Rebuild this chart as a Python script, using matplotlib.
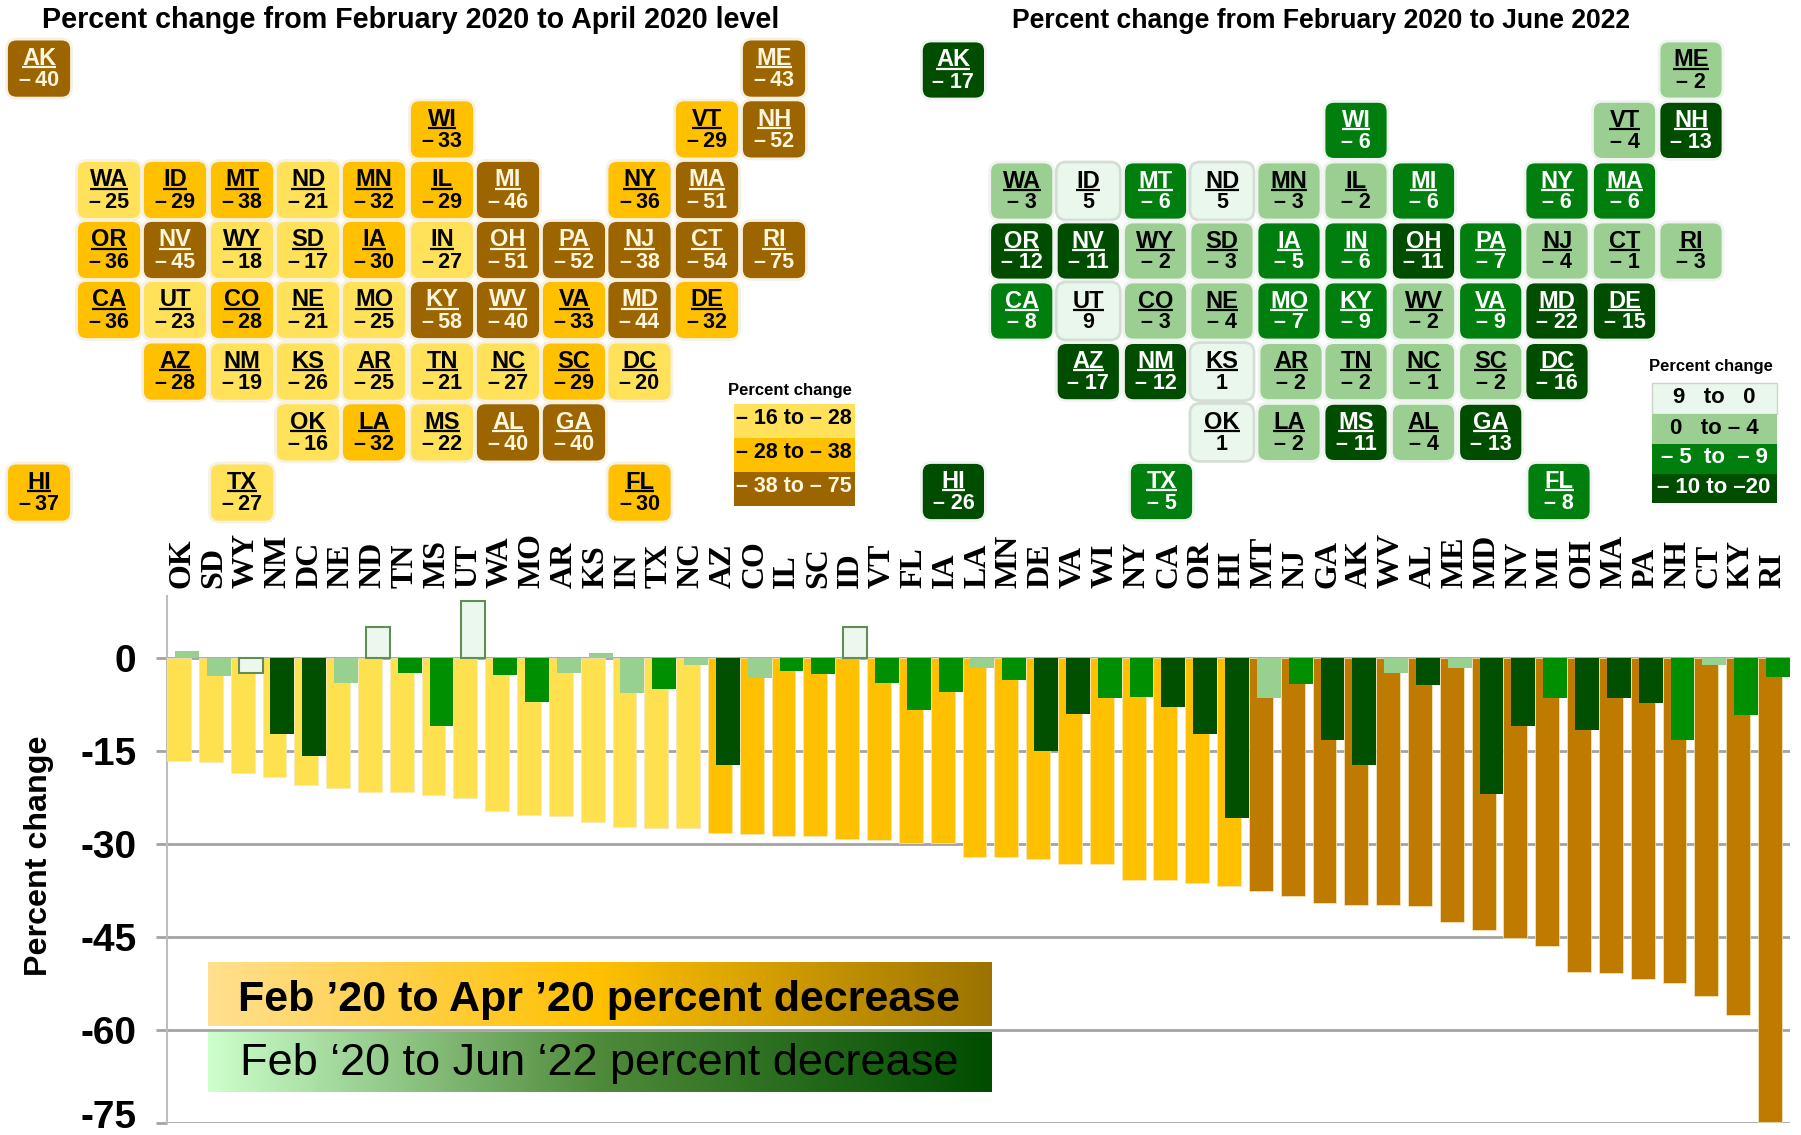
import numpy as np
import matplotlib
matplotlib.use("Agg")
import matplotlib.pyplot as plt
from matplotlib.patches import FancyBboxPatch, Rectangle
from matplotlib.colors import LinearSegmentedColormap
from matplotlib.transforms import ScaledTranslation

plt.rcParams['font.family'] = ['Liberation Sans', 'DejaVu Sans']

# ---- data ----
bar_states = ["OK","SD","WY","NM","DC","NE","ND","TN","MS","UT","WA","MO","AR","KS","IN","TX","NC",
              "AZ","CO","IL","SC","ID","VT","FL","IA","LA","MN","DE","VA","WI","NY","CA","OR","HI",
              "MT","NJ","GA","AK","WV","AL","ME","MD","NV","MI","OH","MA","PA","NH","CT","KY","RI"]
apr_bars = [-16.6,-16.8,-18.6,-19.3,-20.6,-21.0,-21.7,-21.7,-22.2,-22.7,-24.7,-25.4,-25.5,-26.5,-27.3,-27.4,-27.4,
            -28.3,-28.5,-28.7,-28.8,-29.3,-29.4,-29.9,-29.9,-32.1,-32.2,-32.4,-33.2,-33.2,-35.8,-35.8,-36.4,-36.9,
            -37.6,-38.5,-39.6,-39.9,-39.9,-40.1,-42.7,-44.0,-45.2,-46.5,-50.7,-50.9,-51.9,-52.4,-54.5,-57.7,-74.9]
jun_bars = [1.05,-3.0,-2.4,-12.3,-15.8,-4.0,5.0,-2.5,-11.0,9.1,-2.8,-7.2,-2.4,0.75,-5.7,-5.0,-1.2,
            -17.3,-3.2,-2.1,-2.6,4.9,-4.1,-8.5,-5.6,-1.6,-3.6,-15.1,-9.0,-6.5,-6.4,-7.9,-12.3,-25.9,
            -6.5,-4.3,-13.3,-17.3,-2.4,-4.4,-1.7,-21.9,-11.0,-6.5,-11.7,-6.5,-7.3,-13.3,-1.1,-9.2,-3.1]
apr_bar_class = list("y"*17 + "o"*17 + "b"*17)
jun_bar_class = list("LLPDDLPMMPMMLLLML" "DLMMPMMMLMDDMMDDD" "LMDDLDLDDMDDDMLMM")

tile_states = ["AK","ME","WI","VT","NH","WA","ID","MT","ND","MN","IL","MI","NY","MA",
               "OR","NV","WY","SD","IA","IN","OH","PA","NJ","CT","RI",
               "CA","UT","CO","NE","MO","KY","WV","VA","MD","DE",
               "AZ","NM","KS","AR","TN","NC","SC","DC","OK","LA","MS","AL","GA","HI","TX","FL"]
tile_rows = [0,0,1,1,1,2,2,2,2,2,2,2,2,2,
             3,3,3,3,3,3,3,3,3,3,3,
             4,4,4,4,4,4,4,4,4,4,
             5,5,5,5,5,5,5,5,6,6,6,6,6,7,7,7]
tile_cols = [0,11,6,10,11,1,2,3,4,5,6,7,9,10,
             1,2,3,4,5,6,7,8,9,10,11,
             1,2,3,4,5,6,7,8,9,10,
             2,3,4,5,6,7,8,9,4,5,6,7,8,0,3,9]
apr_vals = [-40,-43,-33,-29,-52,-25,-29,-38,-21,-32,-29,-46,-36,-51,
            -36,-45,-18,-17,-30,-27,-51,-52,-38,-54,-75,
            -36,-23,-28,-21,-25,-58,-40,-33,-44,-32,
            -28,-19,-26,-25,-21,-27,-29,-20,-16,-32,-22,-40,-40,-37,-27,-30]
jun_vals = [-17,-2,-6,-4,-13,-3,5,-6,5,-3,-2,-6,-6,-6,
            -12,-11,-2,-3,-5,-6,-11,-7,-4,-1,-3,
            -8,9,-3,-4,-7,-9,-2,-9,-22,-15,
            -17,-12,1,-2,-2,-1,-2,-16,1,-2,-11,-4,-13,-26,-5,-8]
apr_brown_states = ["AK","ME","NH","MI","MA","NV","OH","PA","NJ","CT","RI","KY","WV","MD","AL","GA"]
apr_yellow_states = ["WA","ND","WY","SD","IN","UT","NE","MO","NM","KS","AR","TN","NC","DC","OK","MS","TX"]

left_legend = ["\u2013 16 to \u2013 28", "\u2013 28 to \u2013 38", "\u2013 38 to \u2013 75"]
right_legend = ["9   to   0", "0   to \u2013 4", "\u2013 5  to  \u2013 9", "\u2013 10 to \u201320"]
yticks = [0, -15, -30, -45, -60, -75]

# ---- style ----
BAR = {"y":"#FFE14F","o":"#FFC000","b":"#BF7A00","P":"#ECF8EE","L":"#98D18F","M":"#008F00","D":"#005000"}
T_A = {"y":"#FFE15A","o":"#FFC000","b":"#9C6500"}
T_J = {"P":"#EAF7EC","L":"#9BCF91","M":"#007F0E","D":"#004D00"}
R_SHIFT = {"TX":6, "FL":2, "AR":2}
W, H = 1801, 1135

fig = plt.figure(figsize=(W/100, H/100), dpi=100, facecolor="white")

# ---- bar chart ----
axL, axR, axT, axB = 167, 1790, 596, 1122.6
ax = fig.add_axes([axL/W, 1-axB/H, (axR-axL)/W, (axB-axT)/H], zorder=1)
x = np.arange(len(bar_states))
ax.set_xlim(-0.377, 50.63)
ax.set_ylim(-75, 9.97)
for s in ("top","right","bottom"):
    ax.spines[s].set_visible(False)
ax.spines["left"].set_color("#BDBDBD")
ax.spines["left"].set_linewidth(1.5)
ax.set_axisbelow(True)
ax.yaxis.grid(True, color="#A3A3A3", lw=2.0)
ax.xaxis.grid(False)
ax.bar(x, apr_bars, width=0.75, color=[BAR[c] for c in apr_bar_class], edgecolor="#F3E9C0", linewidth=0.5, zorder=3)
for xi, v, c in zip(x, jun_bars, jun_bar_class):
    ec = "#5F8F55" if c == "P" else "none"
    ax.bar(xi+0.25, v, width=0.75, color=BAR[c], edgecolor=ec, linewidth=1.5 if c == "P" else 0, zorder=4)
ax.set_yticks(yticks)
ax.set_yticklabels([str(t) for t in yticks], fontsize=28, fontweight="bold", color="black")
ax.tick_params(axis="y", length=8, width=2, color="#A3A3A3", pad=14)
last = ax.get_yticklabels()[-1]
last.set_va("center")
last.set_transform(last.get_transform() + ScaledTranslation(0, 3.5/72, fig.dpi_scale_trans))
ax.xaxis.tick_top()
ax.set_xticks(x+0.1)
ax.set_xticklabels(bar_states, rotation=90, fontsize=23, fontweight="bold",
                   family=["Liberation Serif"], color="black")
ax.tick_params(axis="x", length=0, pad=6)

# ---- overlay in pixel space ----
ov = fig.add_axes([0,0,1,1], zorder=2, facecolor="none")
ov.set_xlim(0, W); ov.set_ylim(H, 0); ov.axis("off")

fig.canvas.draw()
rend = fig.canvas.get_renderer()

def tile_text(cx, cy, label, val, color, minus_gap):
    t = ov.text(cx, cy-10, label, ha="center", va="center", fontsize=17, fontweight="bold", color=color, zorder=6)
    bb = t.get_window_extent(rend)
    ov.plot([cx-bb.width/2, cx+bb.width/2], [cy-1.5, cy-1.5], color=color, lw=1.6, zorder=6, solid_capstyle="butt")
    txt = str(val) if val > 0 else "\u2013" + minus_gap + str(abs(val))
    ov.text(cx, cy+12, txt, ha="center", va="center", fontsize=15.5, fontweight="bold", color=color, zorder=6)

def tile(cx, cy, w, h, fc, ec):
    ov.add_patch(FancyBboxPatch((cx-w/2+6, cy-h/2+6), w-12, h-12, boxstyle="round,pad=6,rounding_size=10",
                                fc=fc, ec=ec, lw=2, zorder=5, mutation_aspect=1))

L_X = [39,109,175,242,308,374,442,508,574,639.5,707,774]
L_Y = [68.6,129.4,190,250,310,371.6,432.4,492.6]
R_X = [953.4,1021.7,1088.3,1155.5,1222,1289,1356,1423.5,1490.7,1557,1624.5,1691]
R_Y = [70,130.4,191,251,311,371.6,432.4,491.5]

for s, r, c, va, vj in zip(tile_states, tile_rows, tile_cols, apr_vals, jun_vals):
    k = "b" if s in apr_brown_states else ("y" if s in apr_yellow_states else "o")
    tile(L_X[c], L_Y[r], 65, 59, T_A[k], "#F6F1E2")
    tile_text(L_X[c], L_Y[r], s, va, "#FFF6DC" if k == "b" else "black", "\u2009")
    k = "P" if vj > 0 else ("L" if vj >= -4 else ("M" if vj >= -9 else "D"))
    rx = R_X[c] + R_SHIFT.get(s, 0)
    tile(rx, R_Y[r], 64, 58, T_J[k], "#D5DED5" if k == "P" else "#F0F4F0")
    tile_text(rx, R_Y[r], s, vj, "white" if k in "MD" else "black", " ")

ov.text(411, 19.5, "Percent change from February 2020 to April 2020 level", ha="center", va="center",
        fontsize=20.6, fontweight="bold", zorder=6)
ov.text(1321, 20.5, "Percent change from February 2020 to June 2022", ha="center", va="center",
        fontsize=19.1, fontweight="bold", zorder=6)

# map legends
ov.text(790, 391, "Percent change", ha="center", va="center", fontsize=12, fontweight="bold", zorder=6)
ys = [404, 438, 472, 506]
for i, (lab, k) in enumerate(zip(left_legend, "yob")):
    ov.add_patch(Rectangle((733.6, ys[i]), 121.4, ys[i+1]-ys[i], fc=T_A[k], ec="none", zorder=5))
    ov.text(794, (ys[i]+ys[i+1])/2-2, lab, ha="center", va="center", fontsize=15.5, fontweight="bold",
            color="#FFF6DC" if k == "b" else "black", zorder=6)
ov.text(1711, 367, "Percent change", ha="center", va="center", fontsize=12, fontweight="bold", zorder=6)
ys = [383.4, 414, 444, 473.5, 503.4]
for i, (lab, k) in enumerate(zip(right_legend, "PLMD")):
    ov.add_patch(Rectangle((1652, ys[i]), 124.6, ys[i+1]-ys[i], fc=T_J[k],
                           ec="#C9D6C9" if k == "P" else "none", zorder=5))
    ov.text(1714, (ys[i]+ys[i+1])/2-1, lab, ha="center", va="center", fontsize=16, fontweight="bold",
            color="white" if k in "MD" else "black", zorder=6)

# gradient legends for the bar chart
cm_top = LinearSegmentedColormap.from_list("t", [(0,"#FFE08F"),(0.5,"#FFC000"),(1,"#9B7300")])
cm_bot = LinearSegmentedColormap.from_list("b", [(0,"#CCFFCC"),(0.5,"#4F8A3A"),(1,"#004D00")])
g = np.linspace(0, 1, 512).reshape(1, -1)
ov.imshow(g, cmap=cm_top, extent=(208, 991, 1026, 962.4), aspect="auto", zorder=3)
ov.imshow(g, cmap=cm_bot, extent=(208, 991, 1092, 1032), aspect="auto", zorder=3)
ov.set_xlim(0, W); ov.set_ylim(H, 0)
ov.text(599, 1000, "Feb \u201920 to Apr \u201920 percent decrease", ha="center", va="center",
        fontsize=31, fontweight="bold", color="black", zorder=6)
ov.text(599, 1064, "Feb \u201820 to Jun \u201822 percent decrease", ha="center", va="center",
        fontsize=32.5, color="black", zorder=6)

# axis title
ov.text(39, 856, "Percent change", rotation=90, ha="center", va="center", fontsize=23.2, fontweight="bold", zorder=6)

fig.savefig("out.png", dpi=100)
